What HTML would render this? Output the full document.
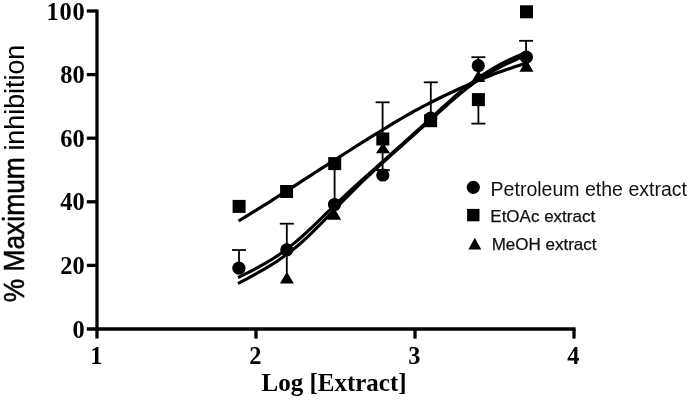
<!DOCTYPE html>
<html><head><meta charset="utf-8"><title>Chart</title>
<style>
html,body{margin:0;padding:0;background:#fff}
svg{display:block}
.serif{font-family:"Liberation Serif",serif;font-weight:bold}
.sans{font-family:"Liberation Sans",sans-serif}
</style>
</head><body>
<svg width="689" height="404" viewBox="0 0 689 404">
<rect width="689" height="404" fill="#fff"/>
<g stroke="#000" stroke-width="3.3" fill="none" stroke-linecap="butt">
<path d="M97 9.4 V338.6"/>
<path d="M86.8 329 H575.6"/>
<path d="M86.8 265.4 H97"/>
<path d="M86.8 201.8 H97"/>
<path d="M86.8 138.2 H97"/>
<path d="M86.8 74.6 H97"/>
<path d="M86.8 11 H97"/>
<path d="M256 329 V338.6"/>
<path d="M415 329 V338.6"/>
<path d="M574 329 V338.6"/>
</g>
<g class="serif" font-size="24.4" fill="#000">
<text x="84.6" y="337.6" text-anchor="end">0</text>
<text x="84.6" y="274" text-anchor="end">20</text>
<text x="84.6" y="210.4" text-anchor="end">40</text>
<text x="84.6" y="146.8" text-anchor="end">60</text>
<text x="84.6" y="83.2" text-anchor="end">80</text>
<text x="46.4 59.6 72.6" y="19.6">100</text>
<text x="96.4" y="363.6" text-anchor="middle">1</text>
<text x="255.4" y="363.6" text-anchor="middle">2</text>
<text x="414.4" y="363.6" text-anchor="middle">3</text>
<text x="573.4" y="363.6" text-anchor="middle">4</text>
</g>
<text class="serif" x="334" y="391" text-anchor="middle" font-size="25" fill="#000">Log [Extract]</text>
<text class="sans" transform="translate(24.3 302.3) rotate(-90)" fill="#000"><tspan font-size="29.8" textLength="145.07" lengthAdjust="spacingAndGlyphs" stroke="#000" stroke-width="0.55">% Maximum</tspan><tspan font-size="28.4" dx="-0.8" textLength="113.27" lengthAdjust="spacingAndGlyphs"> inhibition</tspan></text>
<g stroke="#000" stroke-width="1.8" fill="none">
<path d="M239 250 V268"/>
<path d="M232 250 H246"/>
<path d="M286.8 223.7 V275"/>
<path d="M279.8 223.7 H293.8"/>
<path d="M334.6 164 V204"/>
<path d="M382.6 102.3 V172"/>
<path d="M375.6 102.3 H389.6"/>
<path d="M382.8 170 V173"/>
<path d="M375.8 170 H389.8"/>
<path d="M430.8 82.3 V118"/>
<path d="M423.8 82.3 H437.8"/>
<path d="M478.4 57.2 V66"/>
<path d="M471.4 57.2 H485.4"/>
<path d="M478.4 100 V123.6"/>
<path d="M471.4 123.6 H485.4"/>
<path d="M526.1 40.8 V57"/>
<path d="M519.1 40.8 H533.1"/>
</g>
<g stroke="#000" fill="none" stroke-linecap="butt" stroke-linejoin="round">
<path stroke-width="3.2" d="M238.6 221.0 L242.6 218.5 L246.6 216.1 L250.6 213.6 L254.6 211.2 L258.6 208.7 L262.6 206.2 L266.5 203.8 L270.5 201.3 L274.5 198.7 L278.5 196.2 L282.5 193.6 L286.5 191.1 L290.5 188.5 L294.5 185.9 L298.5 183.3 L302.5 180.7 L306.5 178.2 L310.4 175.6 L314.4 173.0 L318.4 170.4 L322.4 167.9 L326.4 165.3 L330.4 162.7 L334.4 160.2 L338.4 157.6 L342.4 155.0 L346.4 152.5 L350.4 150.0 L354.4 147.4 L358.3 144.9 L362.3 142.4 L366.3 139.9 L370.3 137.4 L374.3 134.9 L378.3 132.5 L382.3 130.0 L386.3 127.6 L390.3 125.1 L394.3 122.7 L398.3 120.4 L402.3 118.0 L406.2 115.7 L410.2 113.5 L414.2 111.2 L418.2 109.1 L422.2 106.9 L426.2 104.8 L430.2 102.8 L434.2 100.8 L438.2 98.8 L442.2 96.8 L446.2 94.9 L450.2 93.0 L454.1 91.2 L458.1 89.3 L462.1 87.5 L466.1 85.7 L470.1 84.0 L474.1 82.2 L478.1 80.5 L482.1 78.9 L486.1 77.3 L490.1 75.7 L494.1 74.1 L498.1 72.6 L502.0 71.2 L506.0 69.8 L510.0 68.4 L514.0 67.0 L518.0 65.7 L522.0 64.4 L526.0 63.1"/>
<path stroke-width="3.1" d="M238.0 277.7 L242.0 275.7 L246.0 273.7 L250.0 271.7 L254.0 269.6 L258.0 267.4 L262.0 265.2 L266.0 262.9 L270.0 260.5 L274.0 258.0 L278.0 255.4 L282.0 252.6 L286.0 249.7 L290.0 246.6 L294.0 243.4 L298.0 240.0 L302.0 236.5 L306.0 232.9 L310.0 229.2 L314.0 225.4 L318.0 221.5 L322.0 217.6 L326.0 213.7 L330.0 209.8 L334.0 205.9 L338.0 202.1 L342.0 198.3 L346.0 194.6 L350.0 190.9 L354.0 187.2 L358.0 183.6 L362.0 180.0 L366.0 176.4 L370.0 172.8 L374.0 169.3 L378.0 165.7 L382.0 162.1 L386.0 158.6 L390.0 155.0 L394.0 151.4 L398.0 147.9 L402.0 144.3 L406.0 140.7 L410.0 137.1 L414.0 133.5 L418.0 129.9 L422.0 126.3 L426.0 122.6 L430.0 119.0 L434.0 115.3 L438.0 111.7 L442.0 108.0 L446.0 104.4 L450.0 100.8 L454.0 97.2 L458.0 93.8 L462.0 90.4 L466.0 87.1 L470.0 84.0 L474.0 80.9 L478.0 78.1 L482.0 75.3 L486.0 72.7 L490.0 70.2 L494.0 67.8 L498.0 65.5 L502.0 63.4 L506.0 61.3 L510.0 59.4 L514.0 57.6 L518.0 55.8 L522.0 54.1 L526.0 52.4"/>
<path stroke-width="3.1" d="M238.0 283.5 L242.0 281.4 L246.0 279.3 L250.0 277.1 L254.0 274.9 L258.0 272.7 L262.0 270.4 L266.0 268.1 L270.0 265.7 L274.0 263.2 L278.0 260.6 L282.0 257.8 L286.0 255.0 L290.0 252.0 L294.0 248.8 L298.0 245.5 L302.0 242.0 L306.0 238.4 L310.0 234.6 L314.0 230.7 L318.0 226.7 L322.0 222.6 L326.0 218.5 L330.0 214.3 L334.0 210.2 L338.0 206.0 L342.0 201.9 L346.0 197.8 L350.0 193.8 L354.0 189.8 L358.0 185.9 L362.0 182.0 L366.0 178.2 L370.0 174.5 L374.0 170.7 L378.0 167.1 L382.0 163.4 L386.0 159.8 L390.0 156.2 L394.0 152.6 L398.0 149.1 L402.0 145.5 L406.0 141.9 L410.0 138.4 L414.0 134.8 L418.0 131.2 L422.0 127.7 L426.0 124.1 L430.0 120.4 L434.0 116.8 L438.0 113.2 L442.0 109.6 L446.0 106.0 L450.0 102.4 L454.0 99.0 L458.0 95.5 L462.0 92.2 L466.0 89.0 L470.0 86.0 L474.0 83.1 L478.0 80.3 L482.0 77.7 L486.0 75.2 L490.0 72.8 L494.0 70.5 L498.0 68.3 L502.0 66.2 L506.0 64.2 L510.0 62.3 L514.0 60.5 L518.0 58.7 L522.0 57.0 L526.0 55.3"/>
</g>
<g fill="#000">
<rect x="232.6" y="199.9" width="13" height="13"/>
<rect x="280.1" y="185" width="13" height="13"/>
<rect x="328.2" y="157.1" width="13" height="13"/>
<rect x="376.3" y="132.5" width="13" height="13"/>
<rect x="424.1" y="114.2" width="13" height="13"/>
<rect x="471.9" y="93.1" width="13" height="13"/>
<rect x="520" y="5.3" width="13" height="13"/>
<circle cx="238.9" cy="268.2" r="6.6"/>
<circle cx="286.8" cy="249.8" r="6.6"/>
<circle cx="334.5" cy="204.5" r="6.6"/>
<circle cx="382.8" cy="175" r="6.6"/>
<circle cx="430.7" cy="118.2" r="6.6"/>
<circle cx="478.3" cy="65.7" r="6.6"/>
<circle cx="526.3" cy="57.2" r="6.6"/>
<path d="M286.9 271.7 L293.9 283.4 H279.9 Z"/>
<path d="M334.2 207.8 L341.2 219.8 H327.2 Z"/>
<path d="M383 142.5 L390 153.3 H376 Z"/>
<path d="M478.4 70 L485.4 82 H471.4 Z"/>
<path d="M526.4 59.6 L533.4 71.7 H519.4 Z"/>
<circle cx="473.3" cy="187.3" r="6.6"/>
<rect x="467.1" y="208.9" width="12.4" height="12.4"/>
<path d="M474.8 237.7 L481.3 249.6 H468.3 Z"/>
</g>
<g class="sans" fill="#111">
<text x="490.6" y="195.6" font-size="19.5" textLength="196.4" lengthAdjust="spacingAndGlyphs">Petroleum ethe extract</text>
<text x="490.3" y="221.8" font-size="17" stroke="#111" stroke-width="0.25">EtOAc extract</text>
<text x="491.7" y="249.7" font-size="17" stroke="#111" stroke-width="0.25">MeOH extract</text>
</g>
</svg>
</body></html>
